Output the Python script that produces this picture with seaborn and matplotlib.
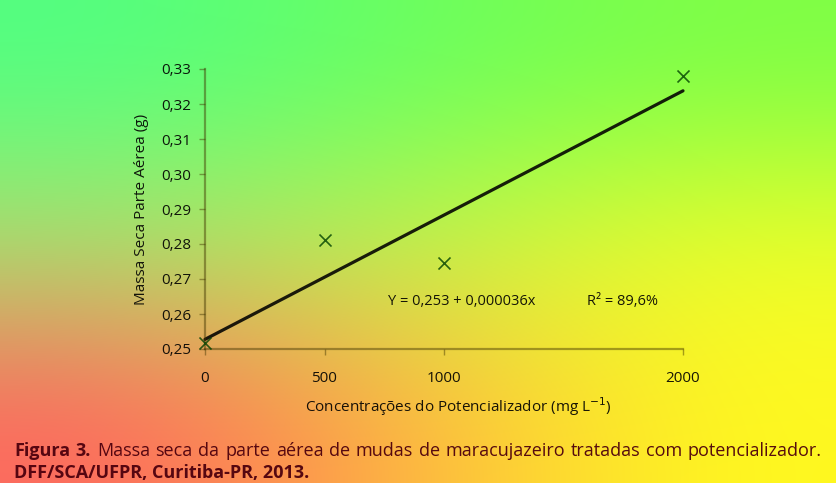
import numpy as np
import pandas as pd
import seaborn as sns
import matplotlib.pyplot as plt

# data
concentracao = [0, 500, 1000, 2000]
massa_seca = [0.2517, 0.2811, 0.2745, 0.3280]
x_ticks = [0, 500, 1000, 2000]
y_ticks = [0.25, 0.26, 0.27, 0.28, 0.29, 0.30, 0.31, 0.32, 0.33]
equacao = "Y = 0,253 + 0,000036x"
r2_texto = "R² = 89,6%"
caption_1 = "Figura 3. Massa seca da parte aérea de mudas de maracujazeiro tratadas com potencializador."
caption_2 = "DFF/SCA/UFPR, Curitiba-PR, 2013."

df = pd.DataFrame({"conc": concentracao, "massa": massa_seca})

sns.set_style("ticks")
plt.rcParams['font.family'] = ['Open Sans', 'DejaVu Sans']

W, H = 836, 483
fig = plt.figure(figsize=(W / 100, H / 100), dpi=100)

# gradient background (green top-left, yellow right, red bottom-left)
grad = np.array([
    [[80, 255, 130], [105, 255, 95], [125, 255, 70]],
    [[175, 228, 110], [195, 245, 75], [240, 255, 40]],
    [[255, 100, 95], [255, 185, 65], [255, 250, 30]],
]) / 255.0
bg = fig.add_axes([0, 0, 1, 1], zorder=-1)
bg.imshow(grad, aspect='auto', interpolation='bicubic', extent=[0, 1, 0, 1])
bg.set_axis_off()

ax = fig.add_axes([205 / W, 1 - 349 / H, (683 - 205) / W, (349 - 69) / H])
ax.set_facecolor('none')

ink = (0, 0, 0, 0.9)
axis_ink = (0.25, 0.2, 0, 0.45)

sns.regplot(data=df, x="conc", y="massa", ax=ax, ci=None, marker='x',
            scatter_kws={'s': 75, 'color': (0, 0.25, 0, 0.6), 'linewidths': 1.2,
                         'clip_on': False, 'zorder': 4},
            line_kws={'color': (0, 0, 0, 0.88), 'linewidth': 2.3, 'clip_on': False})

ax.set_xlim(0, 2000)
ax.set_ylim(0.25, 0.33)
ax.set_xticks(x_ticks)
ax.set_yticks(y_ticks)
ax.set_yticklabels([f"{v:.2f}".replace('.', ',') for v in y_ticks])
ax.tick_params(axis='y', length=4, width=1, color=axis_ink, pad=6,
               labelsize=11, labelcolor=ink)
ax.tick_params(axis='x', length=4, width=1, color=axis_ink, pad=12,
               labelsize=11, labelcolor=ink)
for side in ['top', 'right']:
    ax.spines[side].set_visible(False)
for side in ['left', 'bottom']:
    ax.spines[side].set_color(axis_ink)
    ax.spines[side].set_linewidth(1.6)

ax.set_xlabel("Concentrações do Potencializador (mg L$^{-1}$)", fontsize=11, color=ink)
ax.set_ylabel("Massa Seca Parte Aérea (g)", fontsize=11, color=ink)
ax.xaxis.set_label_coords(0.53, -0.165)
ax.yaxis.set_label_coords(-0.118, 0.5)

ax.text((388 - 205) / (683 - 205) * 2000, 0.2635, equacao, fontsize=10.5,
        color=ink, ha='left', va='center')
ax.text((587 - 205) / (683 - 205) * 2000, 0.2635, r2_texto, fontsize=10.5,
        color=ink, ha='left', va='center')

# caption, first line justified word by word
cap_ink = (0.3, 0, 0.05, 0.95)
renderer = fig.canvas.get_renderer()
words = caption_1.split(" ")
objs = []
for i, w in enumerate(words):
    t = fig.text(0, 1 - 451 / H, w, fontsize=13, color=cap_ink,
                 fontweight='bold' if i < 2 else 'normal', va='center', ha='left')
    objs.append(t)
widths = [t.get_window_extent(renderer).width for t in objs]
x0, x1 = 14, 822
gap = (x1 - x0 - sum(widths)) / (len(objs) - 1)
x = x0
for t, w in zip(objs, widths):
    t.set_x(x / W)
    x += w + gap

fig.text(14 / W, 1 - 473 / H, caption_2, fontsize=13, color=cap_ink,
         fontweight='bold', va='center', ha='left')

fig.savefig("out.png", dpi=100)
